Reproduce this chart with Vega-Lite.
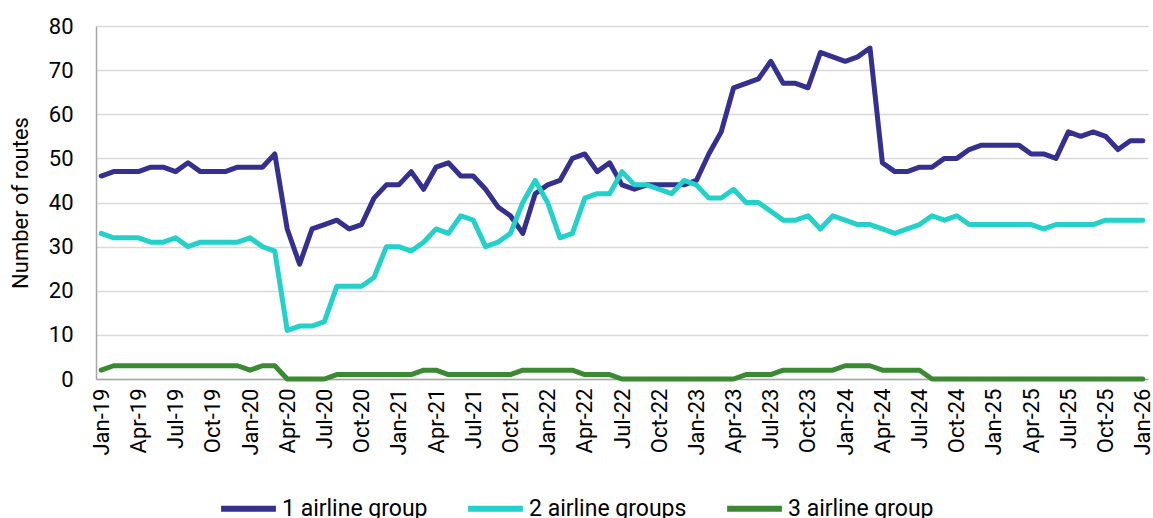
{
  "$schema": "https://vega.github.io/schema/vega-lite/v6.json",
  "width": 1052,
  "height": 353,
  "autosize": "none",
  "padding": {"left": 96, "top": 26, "right": 5, "bottom": 139},
  "background": "white",
  "config": {"font": "Roboto", "view": {"stroke": null}},
  "data": {"values": [
    {"month": "Jan-19", "g1": 46, "g2": 33, "g3": 2},
    {"month": "Feb-19", "g1": 47, "g2": 32, "g3": 3},
    {"month": "Mar-19", "g1": 47, "g2": 32, "g3": 3},
    {"month": "Apr-19", "g1": 47, "g2": 32, "g3": 3},
    {"month": "May-19", "g1": 48, "g2": 31, "g3": 3},
    {"month": "Jun-19", "g1": 48, "g2": 31, "g3": 3},
    {"month": "Jul-19", "g1": 47, "g2": 32, "g3": 3},
    {"month": "Aug-19", "g1": 49, "g2": 30, "g3": 3},
    {"month": "Sep-19", "g1": 47, "g2": 31, "g3": 3},
    {"month": "Oct-19", "g1": 47, "g2": 31, "g3": 3},
    {"month": "Nov-19", "g1": 47, "g2": 31, "g3": 3},
    {"month": "Dec-19", "g1": 48, "g2": 31, "g3": 3},
    {"month": "Jan-20", "g1": 48, "g2": 32, "g3": 2},
    {"month": "Feb-20", "g1": 48, "g2": 30, "g3": 3},
    {"month": "Mar-20", "g1": 51, "g2": 29, "g3": 3},
    {"month": "Apr-20", "g1": 34, "g2": 11, "g3": 0},
    {"month": "May-20", "g1": 26, "g2": 12, "g3": 0},
    {"month": "Jun-20", "g1": 34, "g2": 12, "g3": 0},
    {"month": "Jul-20", "g1": 35, "g2": 13, "g3": 0},
    {"month": "Aug-20", "g1": 36, "g2": 21, "g3": 1},
    {"month": "Sep-20", "g1": 34, "g2": 21, "g3": 1},
    {"month": "Oct-20", "g1": 35, "g2": 21, "g3": 1},
    {"month": "Nov-20", "g1": 41, "g2": 23, "g3": 1},
    {"month": "Dec-20", "g1": 44, "g2": 30, "g3": 1},
    {"month": "Jan-21", "g1": 44, "g2": 30, "g3": 1},
    {"month": "Feb-21", "g1": 47, "g2": 29, "g3": 1},
    {"month": "Mar-21", "g1": 43, "g2": 31, "g3": 2},
    {"month": "Apr-21", "g1": 48, "g2": 34, "g3": 2},
    {"month": "May-21", "g1": 49, "g2": 33, "g3": 1},
    {"month": "Jun-21", "g1": 46, "g2": 37, "g3": 1},
    {"month": "Jul-21", "g1": 46, "g2": 36, "g3": 1},
    {"month": "Aug-21", "g1": 43, "g2": 30, "g3": 1},
    {"month": "Sep-21", "g1": 39, "g2": 31, "g3": 1},
    {"month": "Oct-21", "g1": 37, "g2": 33, "g3": 1},
    {"month": "Nov-21", "g1": 33, "g2": 40, "g3": 2},
    {"month": "Dec-21", "g1": 42, "g2": 45, "g3": 2},
    {"month": "Jan-22", "g1": 44, "g2": 40, "g3": 2},
    {"month": "Feb-22", "g1": 45, "g2": 32, "g3": 2},
    {"month": "Mar-22", "g1": 50, "g2": 33, "g3": 2},
    {"month": "Apr-22", "g1": 51, "g2": 41, "g3": 1},
    {"month": "May-22", "g1": 47, "g2": 42, "g3": 1},
    {"month": "Jun-22", "g1": 49, "g2": 42, "g3": 1},
    {"month": "Jul-22", "g1": 44, "g2": 47, "g3": 0},
    {"month": "Aug-22", "g1": 43, "g2": 44, "g3": 0},
    {"month": "Sep-22", "g1": 44, "g2": 44, "g3": 0},
    {"month": "Oct-22", "g1": 44, "g2": 43, "g3": 0},
    {"month": "Nov-22", "g1": 44, "g2": 42, "g3": 0},
    {"month": "Dec-22", "g1": 44, "g2": 45, "g3": 0},
    {"month": "Jan-23", "g1": 45, "g2": 44, "g3": 0},
    {"month": "Feb-23", "g1": 51, "g2": 41, "g3": 0},
    {"month": "Mar-23", "g1": 56, "g2": 41, "g3": 0},
    {"month": "Apr-23", "g1": 66, "g2": 43, "g3": 0},
    {"month": "May-23", "g1": 67, "g2": 40, "g3": 1},
    {"month": "Jun-23", "g1": 68, "g2": 40, "g3": 1},
    {"month": "Jul-23", "g1": 72, "g2": 38, "g3": 1},
    {"month": "Aug-23", "g1": 67, "g2": 36, "g3": 2},
    {"month": "Sep-23", "g1": 67, "g2": 36, "g3": 2},
    {"month": "Oct-23", "g1": 66, "g2": 37, "g3": 2},
    {"month": "Nov-23", "g1": 74, "g2": 34, "g3": 2},
    {"month": "Dec-23", "g1": 73, "g2": 37, "g3": 2},
    {"month": "Jan-24", "g1": 72, "g2": 36, "g3": 3},
    {"month": "Feb-24", "g1": 73, "g2": 35, "g3": 3},
    {"month": "Mar-24", "g1": 75, "g2": 35, "g3": 3},
    {"month": "Apr-24", "g1": 49, "g2": 34, "g3": 2},
    {"month": "May-24", "g1": 47, "g2": 33, "g3": 2},
    {"month": "Jun-24", "g1": 47, "g2": 34, "g3": 2},
    {"month": "Jul-24", "g1": 48, "g2": 35, "g3": 2},
    {"month": "Aug-24", "g1": 48, "g2": 37, "g3": 0},
    {"month": "Sep-24", "g1": 50, "g2": 36, "g3": 0},
    {"month": "Oct-24", "g1": 50, "g2": 37, "g3": 0},
    {"month": "Nov-24", "g1": 52, "g2": 35, "g3": 0},
    {"month": "Dec-24", "g1": 53, "g2": 35, "g3": 0},
    {"month": "Jan-25", "g1": 53, "g2": 35, "g3": 0},
    {"month": "Feb-25", "g1": 53, "g2": 35, "g3": 0},
    {"month": "Mar-25", "g1": 53, "g2": 35, "g3": 0},
    {"month": "Apr-25", "g1": 51, "g2": 35, "g3": 0},
    {"month": "May-25", "g1": 51, "g2": 34, "g3": 0},
    {"month": "Jun-25", "g1": 50, "g2": 35, "g3": 0},
    {"month": "Jul-25", "g1": 56, "g2": 35, "g3": 0},
    {"month": "Aug-25", "g1": 55, "g2": 35, "g3": 0},
    {"month": "Sep-25", "g1": 56, "g2": 35, "g3": 0},
    {"month": "Oct-25", "g1": 55, "g2": 36, "g3": 0},
    {"month": "Nov-25", "g1": 52, "g2": 36, "g3": 0},
    {"month": "Dec-25", "g1": 54, "g2": 36, "g3": 0},
    {"month": "Jan-26", "g1": 54, "g2": 36, "g3": 0}
  ]},
  "transform": [
    {"fold": ["g1", "g2", "g3"], "as": ["key", "routes"]},
    {"lookup": "key", "from": {"data": {"values": [
      {"key": "g1", "series": "1 airline group"},
      {"key": "g2", "series": "2 airline groups"},
      {"key": "g3", "series": "3 airline group"}
    ]}, "key": "key", "fields": ["series"]}}
  ],
  "mark": {"type": "line", "strokeWidth": 5, "strokeCap": "round", "strokeJoin": "round"},
  "encoding": {
    "x": {
      "field": "month", "type": "ordinal", "sort": null,
      "scale": {"type": "point", "padding": 0.42},
      "axis": {
        "title": null, "labelAngle": -90, "ticks": false, "grid": false,
        "domainColor": "#a6a6a6", "domainWidth": 1.5,
        "labelFontSize": 22, "labelColor": "#000000", "labelPadding": 9,
        "labelOverlap": false,
        "labelExpr": "indexof(['Jan','Apr','Jul','Oct'], substring(datum.value, 0, 3)) >= 0 ? datum.value : ''"
      }
    },
    "y": {
      "field": "routes", "type": "quantitative",
      "scale": {"domain": [0, 80], "nice": false},
      "axis": {
        "title": "Number of routes", "values": [0, 10, 20, 30, 40, 50, 60, 70, 80],
        "ticks": false, "gridColor": "#d9d9d9", "gridWidth": 1.5,
        "domainColor": "#a6a6a6", "domainWidth": 1.5,
        "labelFontSize": 22, "labelColor": "#000000", "labelPadding": 23,
        "titleFontSize": 22, "titleFontWeight": "normal", "titleColor": "#000000", "titlePadding": 16
      }
    },
    "color": {
      "field": "series", "type": "nominal",
      "scale": {"domain": ["1 airline group", "2 airline groups", "3 airline group"], "range": ["#352f8f", "#22d1c9", "#3b8a33"]},
      "legend": {
        "title": null, "orient": "none", "legendX": 122, "legendY": 452, "direction": "horizontal",
        "symbolType": "stroke", "symbolStrokeWidth": 6, "symbolSize": 3000,
        "labelFontSize": 23, "labelColor": "#000000", "columnPadding": 28, "labelOffset": 3
      }
    }
  }
}
